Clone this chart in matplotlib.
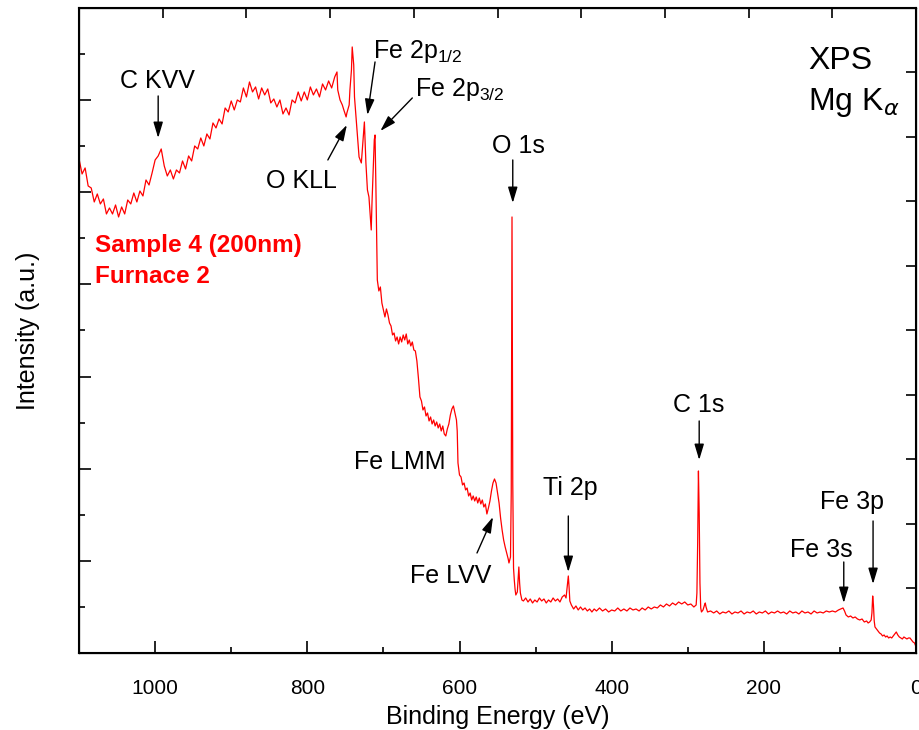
import numpy as np
import matplotlib.pyplot as plt

plt.rcParams['font.family'] = ['Liberation Sans', 'DejaVu Sans']

# survey spectrum, binding energy (eV) and intensity (a.u.)
# high energy side: C KVV / secondary background
auger_ev = [1100, 1096, 1092, 1088, 1084, 1080, 1076, 1072, 1068, 1064, 1060, 1056,
            1052, 1048, 1044, 1040, 1036, 1032, 1028, 1024, 1020, 1016, 1012, 1008,
            1004, 1000, 996, 992, 988, 984, 980, 976, 972, 968, 964, 960, 956, 952,
            948, 944, 940, 936, 932, 928, 924, 920, 916, 912, 908, 904, 900, 896,
            892, 888, 884, 880, 876, 872, 868, 864, 860, 856, 852, 848, 844, 840,
            836, 832, 828, 824, 820, 816, 812, 808, 804, 800, 796, 792, 788, 784,
            780, 776, 772, 768]
auger_int = [494, 479, 485, 467, 465, 451, 459, 449, 454, 439, 445, 439,
             448, 436, 446, 439, 453, 449, 460, 451, 462, 457, 473, 468,
             480, 493, 497, 504, 487, 477, 483, 474, 483, 480, 492, 484, 497, 492,
             507, 504, 515, 507, 519, 514, 530, 525, 534, 529, 545, 541, 552, 543,
             553, 551, 565, 556, 571, 561, 566, 554, 565, 558, 564, 550, 554, 546,
             553, 539, 545, 538, 553, 550, 561, 552, 561, 553, 566, 558, 564, 556,
             569, 563, 572, 565]

# O KLL, Fe 2p and Fe Auger region
fe_ev = [764, 761, 760, 757, 754, 752, 749, 748, 745, 744, 742, 741, 739, 738,
         735, 732, 729, 727, 725, 723, 721, 719, 716, 715, 712, 711, 710, 708,
         706, 704, 702, 700, 698, 696, 694, 692, 690, 688, 686, 684, 682, 680,
         678, 676, 674, 672, 670, 668, 666, 664, 662, 660, 658, 656, 654, 652,
         650, 648, 646, 644, 642, 640, 638, 636, 634, 632, 630, 628, 626, 624,
         622, 620, 618, 616, 614, 612, 610, 608, 606, 604, 603, 602, 600, 598,
         596, 594, 592, 590, 588, 586, 584, 582, 580, 578, 576, 574, 572, 570,
         568, 566, 564, 562, 560, 558, 556, 554, 552, 550, 548, 546, 544, 542,
         540, 538, 536]
fe_int = [576, 581, 563, 553, 548, 543, 536, 540, 548, 563, 583, 606, 588, 556,
          526, 496, 490, 510, 531, 490, 463, 456, 423, 450, 513, 518, 473, 373,
          362, 366, 350, 343, 336, 344, 338, 330, 327, 318, 320, 312, 316, 309,
          316, 311, 318, 313, 319, 309, 313, 307, 311, 303, 302, 292, 275, 256,
          252, 243, 246, 237, 240, 232, 236, 229, 233, 227, 231, 225, 229, 222,
          227, 219, 217, 224, 229, 238, 244, 247, 240, 233, 222, 190, 178, 176,
          168, 170, 163, 165, 157, 160, 153, 157, 152, 156, 150, 155, 149, 153,
          146, 149, 139, 145, 152, 162, 170, 174, 170, 160, 150, 135, 123, 113,
          106, 100, 94]

# O 1s down to 0 eV (Ti 2p, C 1s, Fe 3s, Fe 3p)
low_ev = [535, 533, 532, 531, 530, 529, 528, 527, 526, 524, 522, 521, 520, 518,
          516, 513, 510, 507, 504, 501, 498, 495, 492, 489, 486, 483, 480, 477,
          474, 471, 468, 465, 462, 460, 459, 458, 457, 456, 455, 453, 450, 447,
          444, 441, 438, 435, 432, 429, 426, 423, 420, 416, 412, 408, 404, 400,
          396, 392, 388, 384, 380, 376, 372, 368, 364, 360, 356, 352, 348, 344,
          340, 336, 332, 328, 324, 320, 316, 312, 308, 304, 300, 296, 292, 289,
          288, 287, 286, 285, 284, 283, 282, 280, 278, 277, 276, 274, 270, 266,
          262, 258, 254, 250, 246, 242, 238, 234, 230, 226, 222, 218, 214, 210,
          206, 202, 198, 194, 190, 186, 182, 178, 174, 170, 166, 162, 158, 154,
          150, 146, 142, 138, 134, 130, 126, 122, 118, 114, 110, 106, 102, 99,
          96, 94, 92, 89, 86, 83, 80, 77, 74, 71, 68, 65, 63, 61, 59, 58, 57,
          56, 55, 54, 52, 50, 48, 46, 44, 42, 40, 38, 36, 34, 32, 30, 28, 26,
          24, 22, 20, 18, 16, 14, 12, 10, 8, 6, 4, 2, 1]
low_int = [90, 96, 160, 436, 170, 85, 73, 64, 58, 61, 86, 70, 60, 53,
           52, 55, 51, 54, 50, 53, 51, 55, 52, 54, 50, 53, 51, 55,
           52, 54, 51, 56, 58, 55, 62, 70, 77, 66, 52, 48, 44, 47,
           43, 46, 43, 45, 42, 44, 41, 44, 42, 45, 42, 44, 41, 43,
           42, 45, 42, 44, 42, 45, 43, 44, 42, 45, 43, 46, 44, 46,
           45, 48, 46, 49, 47, 50, 48, 51, 49, 51, 48, 49, 46, 48,
           60, 110, 182, 140, 70, 45, 41, 43, 48, 50, 46, 41, 42, 40,
           42, 39, 41, 40, 42, 39, 41, 40, 42, 39, 41, 40, 42, 39,
           41, 40, 42, 39, 41, 40, 42, 40, 41, 39, 42, 40, 41, 39,
           42, 40, 41, 39, 42, 40, 41, 40, 42, 41, 42, 41, 43, 44,
           45, 42, 38, 36, 37, 35, 36, 34, 33, 34, 31, 32, 30, 31, 33, 40, 57,
           48, 32, 26, 24, 22, 20, 19, 17, 18, 16, 17, 15, 16, 15, 17, 19, 21,
           18, 16, 15, 14, 16, 15, 14, 15, 15, 13, 11, 10, 8]

# peak labels
peak_labels = ['C KVV', 'O KLL', 'Fe 2p$_\\mathregular{1/2}$', 'Fe 2p$_\\mathregular{3/2}$',
               'O 1s', 'Fe LMM', 'Fe LVV', 'Ti 2p', 'C 1s', 'Fe 3s', 'Fe 3p']

energy = np.array(auger_ev + fe_ev + low_ev)
intensity = np.array(auger_int + fe_int + low_int)

fig = plt.figure(figsize=(9.19, 7.30), dpi=100)
ax = fig.add_axes([0.0860, 0.1055, 0.9108, 0.8836])

ax.plot(energy, intensity, color='red', lw=0.9)

ax.set_xlim(1100, 0)
ax.set_ylim(0, 645)
ax.set_xticks([0, 200, 400, 600, 800, 1000])
ax.set_xticks([100, 300, 500, 700, 900], minor=True)
ax.set_yticks(np.linspace(0, 645, 8)[1:-1])
ax.set_yticks(np.linspace(0, 645, 15)[1:-1:2], minor=True)
ax.tick_params(which='both', direction='in', width=1.2, top=False, right=False,
               labelleft=False, labelsize=15, pad=19)
ax.tick_params(which='major', length=8.5)
ax.tick_params(which='minor', length=4.5)
for s in ax.spines.values():
    s.set_linewidth(1.5)

# top and right axes have their own tick spacing
ax_top = ax.twiny()
ax_top.set_xlim(1100, 0)
ax_top.set_xticks([990, 880, 770, 660, 550, 440, 330, 220, 110])
ax_top.tick_params(direction='in', length=7, width=1.2, labeltop=False)
ax_right = ax.twinx()
ax_right.set_ylim(0, 645)
ax_right.set_yticks(np.linspace(0, 645, 11)[1:-1])
ax_right.tick_params(direction='in', length=7, width=1.2, labelright=False)

ax.set_xlabel('Binding Energy (eV)', fontsize=18, labelpad=5)
ax.set_ylabel('Intensity (a.u.)', fontsize=18, labelpad=28)

# (text x, text y, alignment, arrow start, arrow tip)
layout = [
    (997, 565, 'center', (996, 557), (996, 515)),
    (808, 465, 'center', (773, 493), (748, 528)),
    (714, 595, 'left', (711, 591), (721, 538)),
    (658, 557, 'left', (662, 555), (704, 522)),
    (523, 500, 'center', (530, 493), (530, 450)),
    (678, 184, 'center', None, None),
    (611, 70, 'center', (577, 100), (556, 136)),
    (455, 158, 'center', (457, 137), (457, 81)),
    (286, 241, 'center', (285, 232), (285, 193)),
    (125, 96, 'center', (95, 91), (95, 50)),
    (84, 144, 'center', (56.5, 132), (56.5, 69)),
]
for lab, (tx, ty, ha, start, tip) in zip(peak_labels, layout):
    ax.text(tx, ty, lab, fontsize=18, ha=ha, va='baseline')
    if start is not None:
        ax.annotate('', xy=tip, xytext=start,
                    arrowprops=dict(arrowstyle='-|>,head_length=0.6,head_width=0.18',
                                    color='black', lw=1, mutation_scale=16,
                                    shrinkA=0, shrinkB=0))

ax.text(142, 584, 'XPS', fontsize=23, ha='left', va='baseline')
ax.text(142, 543, 'Mg K$_\\alpha$', fontsize=23, ha='left', va='baseline')
ax.text(1079, 401, 'Sample 4 (200nm)', fontsize=17.5, color='red',
        fontweight='bold', ha='left', va='baseline')
ax.text(1079, 370, 'Furnace 2', fontsize=17.5, color='red',
        fontweight='bold', ha='left', va='baseline')

plt.savefig('out.png', dpi=100)
